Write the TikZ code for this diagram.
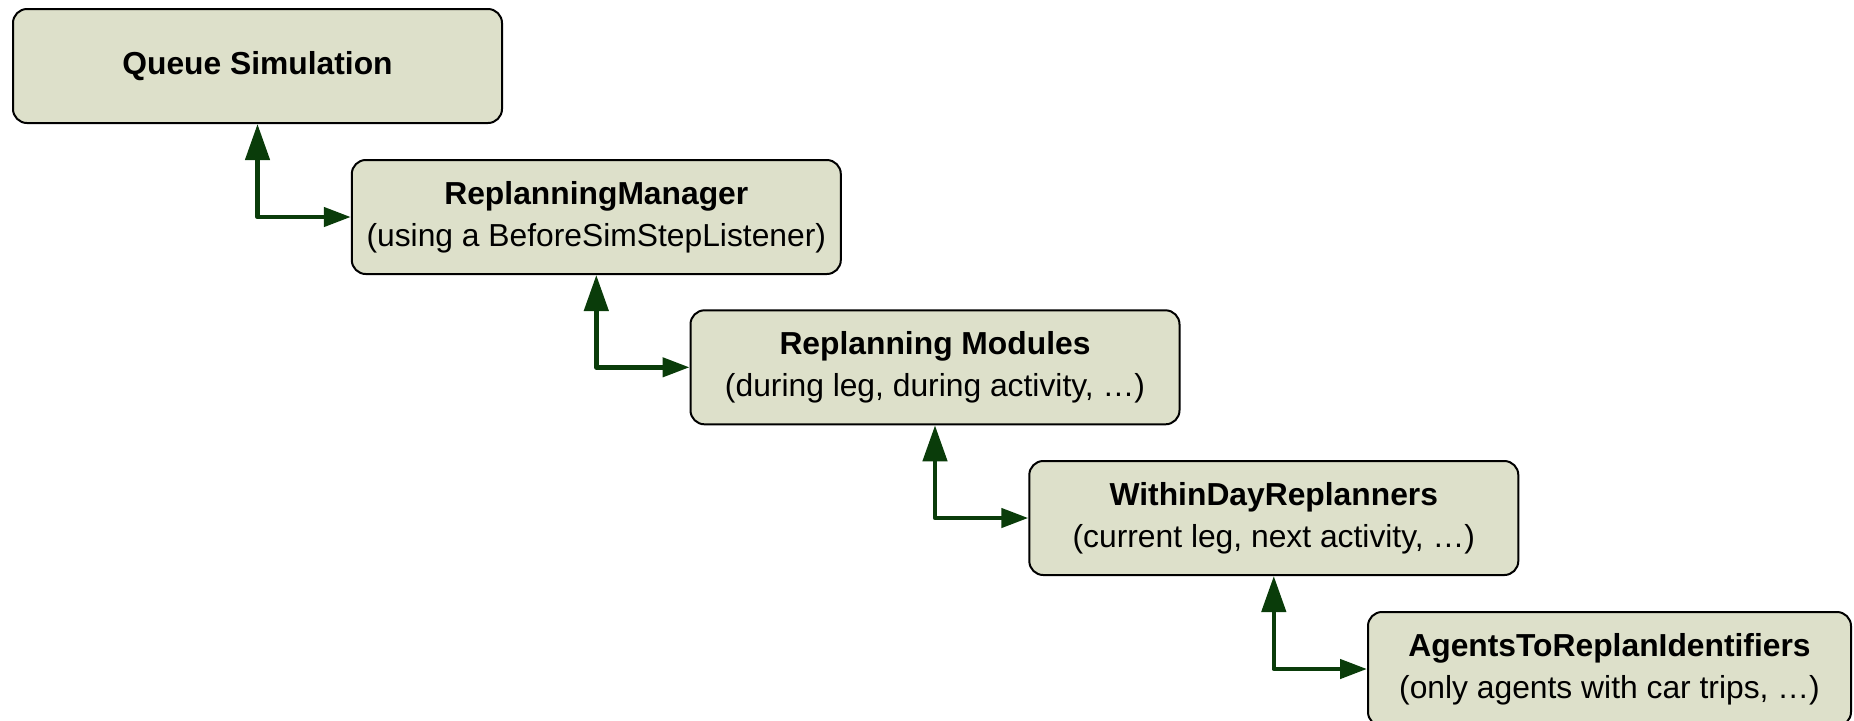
\documentclass[tikz,border=0pt]{standalone}
\usepackage{fontspec}
\setmainfont{Liberation Sans}
\usetikzlibrary{arrows.meta}
\definecolor{boxfill}{RGB}{221,224,202}
\definecolor{linkgreen}{RGB}{10,60,10}
\begin{document}
\begin{tikzpicture}[x=0.5pt,y=-0.5pt,
  box/.style={draw=black, line width=1pt, fill=boxfill, rounded corners=7pt,
    minimum width=244.5pt, minimum height=57pt, align=center, inner sep=0pt,
    font=\fontsize{15.9pt}{21pt}\selectfont},
  link/.style={draw=linkgreen, line width=2.25pt, line join=round,
    {Triangle[length=18pt,width=12pt]}-{Triangle[length=13.5pt,width=9.5pt]}}]
\useasboundingbox (0,0) rectangle (1854,720);
\node[box] (b1) at (257.5,66) {\textbf{Queue Simulation}};
\node[box] (b2) at (596.3,217) {\textbf{ReplanningManager}\\(using a BeforeSimStepListener)};
\node[box] (b3) at (935,367.3) {\textbf{Replanning Modules}\\(during leg, during activity, …)};
\node[box] (b4) at (1273.8,518) {\textbf{WithinDayReplanners}\\(current leg, next activity, …)};
\node[box, minimum width=241.5pt] (b5) at (1609.5,669) {\textbf{AgentsToReplanIdentifiers}\\(only agents with car trips, …)};
\draw[link] (b1.south) |- (b2.west);
\draw[link] (b2.south) |- (b3.west);
\draw[link] (b3.south) |- (b4.west);
\draw[link] (b4.south) |- (b5.west);
\end{tikzpicture}
\end{document}
